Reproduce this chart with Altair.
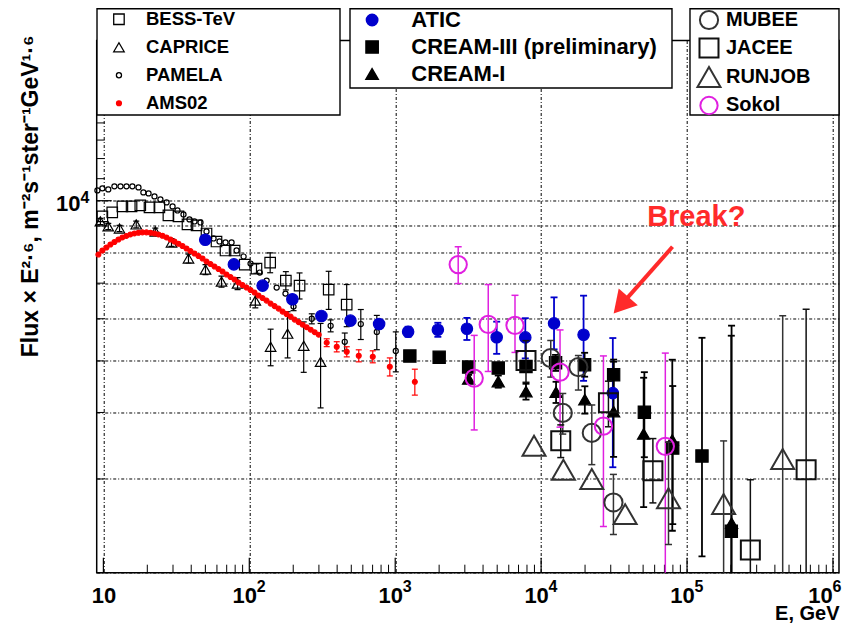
import altair as alt
import pandas as pd

# ---------------- data (E in GeV, Flux x E^2.6) ----------------
BESS_E = [9.84, 11.5, 13.5, 15.6, 17.9, 20.7, 24.2, 27.9, 32.7, 37.7, 43.5, 50.9, 59.6, 68.7, 79.3, 93, 112, 139, 178, 221, 350, 465]
BESS_F = [9342, 9505, 9756, 9756, 9798, 9714, 9714, 9383, 9342, 9024, 8985, 8677, 8381, 8061, 8061, 7586, 7456, 7652, 7077, 6926, 6808, 6378]
BESS_ERR = [0, 0, 0, 0, 0, 0, 0, 0, 0, 0, 0, 0, 0, 0, 0, 0, 150, 330, 280, 390, 560, 580]

CAPRICE_E = [9.54, 10.8, 12.9, 16.8, 22.7, 29.3, 38.3, 50.1, 64.5, 83.1, 110, 140, 183, 236, 308]
CAPRICE_F = [9142, 8947, 8867, 9024, 8753, 8346, 7787, 7424, 7047, 6986, 6490, 5316, 5625, 5339, 4980]
CAPRICE_ERR = [120, 120, 120, 130, 130, 140, 150, 160, 170, 180, 200, 420, 560, 580, 900]

PAMELA_E = [9.1, 9.84, 10.8, 11.9, 13.1, 14.4, 15.8, 17.4, 18.8, 20.4, 22.4, 24.6, 27.1, 29.8, 32.2, 35.4, 38.9,
            42.1, 46.3, 50.9, 56.9, 62.5, 68.7, 75.6, 81.8, 91.4, 102, 118, 131.5, 154, 177, 201, 268, 361, 451,
            581, 748, 1009]
PAMELA_F = [10457, 10548, 10502, 10640, 10640, 10640, 10640, 10593, 10366, 10321, 10188, 10056, 9926, 9756, 9588,
            9423, 9222, 9142, 9102, 8754, 8493, 8383, 8346, 8346, 8061, 7853, 7620, 7328, 7077, 6866, 6690, 6324,
            6000, 5820, 5431, 5865, 5668, 5219]
PAMELA_ERR = [0, 0, 0, 0, 0, 0, 0, 0, 0, 0, 0, 0, 0, 0, 0, 0, 0, 0, 0, 0, 0, 0, 0, 0, 0, 0, 0, 0, 0, 0, 0,
              110, 130, 150, 210, 380, 420, 450]

AMS_E = [9.24, 9.84, 10.49, 11.17, 11.90, 12.68, 13.50, 14.38, 15.32, 16.32, 17.39, 18.52, 19.73, 21.02, 22.39,
         23.85, 25.41, 27.06, 28.83, 30.71, 32.72, 34.85, 37.13, 39.55, 42.13, 44.88, 47.81, 50.93, 54.26, 57.79,
         61.57, 65.59, 69.87, 74.42, 79.28, 84.46, 89.96, 95.83, 102.1, 108.7, 115.8, 123.4, 131.4, 140.0, 149.1,
         158.9, 169.2, 180.3, 192.1, 204.6, 218.0, 232.2, 247.4, 263.5, 280.7, 299.0, 339.3, 397.4, 465.5, 562.6,
         701.8, 918.4, 1363]
AMS_F = [7922, 8061, 8167, 8274, 8364, 8455, 8530, 8586, 8641, 8679, 8706, 8718, 8718, 8706, 8679, 8641, 8594,
         8530, 8455, 8381, 8300, 8220, 8131, 8043, 7957, 7870, 7787, 7686, 7603, 7521, 7440, 7360, 7265, 7187,
         7110, 7018, 6943, 6868, 6794, 6721, 6634, 6562, 6490, 6407, 6338, 6269, 6188, 6121, 6056, 5978, 5913,
         5848, 5785, 5723, 5661, 5600, 5410, 5316, 5202, 5113, 5091, 4875, 4568]
AMS_ERR = [0, 0, 0, 0, 0, 0, 0, 0, 0, 0, 0, 0, 0, 0, 0, 0, 0, 0, 0, 0, 0, 0, 0, 0, 0, 0, 0, 0, 0, 0,
           0, 0, 0, 0, 0, 0, 0, 0, 0, 0, 0, 0, 0, 0, 0, 0, 0, 0, 0, 0, 0, 0, 0, 0, 0, 0,
           92, 117, 114, 133, 132, 190, 256]

ATIC_E = [49.9, 78.4, 123.4, 197.3, 312.1, 493.4, 775.7, 1226, 1960, 3100, 4959, 7789, 12260, 19540, 31000]
ATIC_F = [8444, 7592, 6926, 6527, 6074, 5952, 5867, 5674, 5723, 5748, 5540, 5535, 5882, 5600, 4350]
ATIC_ERR_LO = [100, 90, 80, 80, 80, 90, 100, 123, 174, 274, 385, 480, 625, 1013, 1194]
ATIC_ERR_HI = [100, 90, 80, 80, 80, 90, 100, 123, 174, 274, 385, 480, 700, 1031, 1170]

CREAM3_E = [1260, 2001, 3185, 5084, 7877, 12560, 19860, 31400, 50990, 79780, 126600, 201100]
CREAM3_F = [5106, 5079, 4868, 4847, 4881, 4960, 4917, 4709, 4005, 3429, 3313, 2393]
CREAM3_ERR_LO = [66, 66, 63, 84, 106, 172, 247, 307, 709, 962, 1166, 1500]
CREAM3_ERR_HI = [66, 66, 63, 84, 106, 172, 262, 320, 757, 1056, 2213, 3183]

CREAM1_E = [3185, 5084, 7877, 12660, 19930, 31380, 50420, 79230, 201900]
CREAM1_F = [4627, 4573, 4379, 4368, 4230, 4016, 3646, 3552, 2479]
CREAM1_ERR_LO = [80, 120, 150, 200, 250, 715, 990, 1154, 1500]
CREAM1_ERR_HI = [80, 120, 150, 200, 250, 966, 1003, 1474, 3345]

MUBEE_E = [11640, 14070, 18000, 22250, 31300]
MUBEE_F = [5062, 3993, 4868, 3662, 2710]
MUBEE_ERR_LO = [400, 350, 460, 470, 350]
MUBEE_ERR_HI = [400, 350, 250, 470, 350]

JACEE_E = [7877, 13630, 28930, 58340, 271600, 654900]
JACEE_F = [5008, 3541, 4170, 3110, 2207, 3123]
JACEE_ERR_LO = [450, 250, 410, 405, 800, 1500]
JACEE_ERR_HI = [450, 250, 410, 463, 783, 3130]

RUNJOB_E = [8940, 14210, 22250, 37650, 74650, 178100, 452400]
RUNJOB_F = [3464, 3123, 2999, 2577, 2759, 2692, 3271]
RUNJOB_ERR_LO = [0, 0, 0, 0, 499, 1500, 2000]
RUNJOB_ERR_HI = [0, 0, 0, 0, 759, 845, 2810]

SOKOL_E = [2702, 3479, 4341, 6621, 13480, 26730, 70980]
SOKOL_F = [7586, 4642, 5856, 5831, 4764, 3770, 3455]
SOKOL_ERR_LO = [599, 933, 1079, 644, 1010, 1327, 2000]
SOKOL_ERR_HI = [606, 942, 1101, 810, 953, 1339, 1717]

# annotation ("Break?" label and arrow), in data coordinates
BREAK_LABEL = {"E": [115700], "F": [9302]}
ARROW_FROM = {"E": [79530], "F": [8192]}
ARROW_HEAD = {"E": [35240], "F": [6363]}

# axis ticks / grid / tick-label exponents
X_MAJOR = [10, 100, 1000, 10000, 100000, 1000000]
X_MINOR = [m * 10 ** k for k in range(1, 6) for m in range(2, 10)]
X_EXP_VALUES = [100, 1000, 10000, 100000]
X_EXP_TEXT = ["2", "3", "4", "5"]
X_EXP_LAST = {"E": [1000000], "t": ["6"]}
Y_GRID = [2000, 3000, 4000, 5000, 6000, 7000, 8000, 9000, 10000]
Y_MAJOR = [10000, 20000]
Y_MINOR = [2000, 3000, 4000, 5000, 6000, 7000, 8000, 9000, 11000, 12000, 13000, 14000, 15000, 16000, 17000, 18000, 19000]
Y_EXP = {"F": [10000], "t": ["4"]}

# ---------------- styling ----------------
FONT = "Liberation Sans"
W, H = 742.3, 532.2
PAD_TOP = 32.5

XS = alt.Scale(type="log", domain=[9, 1.1e6], nice=False, zero=False)
YS = alt.Scale(type="log", domain=[2000, 20000], nice=False, zero=False)
GRID_DASH = [3, 2, 1, 2]

XAXIS = alt.Axis(
    values=X_MAJOR,
    labelExpr="'10'",
    labelFont=FONT, labelFontSize=22, labelFontWeight="bold", labelColor="black",
    labelPadding=30.3, labelBaseline="alphabetic", labelFlush=False, labelOverlap=False,
    labelOffset={"condition": [{"test": "datum.value > 500000", "value": -13},
                               {"test": "datum.value > 50", "value": -5}], "value": 0},
    ticks=False, domain=False,
    grid=True, gridColor="black", gridDash=GRID_DASH, gridWidth=1, gridOpacity=1,
    title="E, GeV", titleFont=FONT, titleFontSize=20, titleFontWeight="bold", titleColor="black",
    titleX=W, titleY=46.8, titleAlign="right", titleBaseline="alphabetic",
)
YAXIS = alt.Axis(
    values=Y_GRID,
    labelExpr="datum.value == 10000 ? '10' : ''",
    labelFont=FONT, labelFontSize=22, labelFontWeight="bold", labelColor="black",
    labelPadding=16.7, labelBaseline="middle", labelOverlap=False, labelOffset=3,
    ticks=False, domain=False,
    grid=True, gridColor="black", gridDash=GRID_DASH, gridWidth=1, gridOpacity=1,
    title="Flux × E²·⁶, m⁻²s⁻¹ster⁻¹GeV¹·⁶", titleFont=FONT, titleFontSize=23, titleFontWeight="bold",
    titleColor="black", titleAngle=270, titleX=-59.7, titleY=-5.5, titleAlign="right",
    titleBaseline="alphabetic",
)


def xenc(field):
    return alt.X(field, type="quantitative", scale=XS, axis=XAXIS)


def yenc(field):
    return alt.Y(field, type="quantitative", scale=YS, axis=YAXIS)


def frame(name, E, F, em, ep=None):
    ep = em if ep is None else ep
    return pd.DataFrame({
        "series": name, "E": E, "F": F,
        "lo": [f - a for f, a in zip(F, em)],
        "hi": [f + b for f, b in zip(F, ep)],
    })


def group(frames, names, shapes, strokes, fills, sizes, legend, pt_sw, err_sw, cap_size):
    pts = pd.concat(frames, ignore_index=True)
    err = pts[pts["hi"] > pts["lo"]]
    caps = pd.concat([err.assign(v=err["lo"]), err.assign(v=err["hi"])], ignore_index=True)
    stroke = alt.Stroke("series:N", scale=alt.Scale(domain=names, range=strokes), legend=legend)
    rules = alt.Chart(err).mark_rule(strokeWidth=err_sw, clip=True).encode(
        x=xenc("E"), y=yenc("lo"), y2="hi:Q", stroke=stroke)
    capm = alt.Chart(caps).mark_point(shape="M-1,0L1,0", size=cap_size, strokeWidth=err_sw,
                                      filled=False, opacity=1, clip=True).encode(
        x=xenc("E"), y=yenc("v"), stroke=stroke)
    points = alt.Chart(pts).mark_point(filled=True, opacity=1, strokeWidth=pt_sw).encode(
        x=xenc("E"), y=yenc("F"),
        shape=alt.Shape("series:N", scale=alt.Scale(domain=names, range=shapes), legend=legend),
        stroke=stroke,
        fill=alt.Fill("series:N", scale=alt.Scale(domain=names, range=fills), legend=legend),
        size=alt.Size("series:N", scale=alt.Scale(type="ordinal", domain=names, range=sizes), legend=legend),
    )
    return alt.layer(rules, capm, points)


def legend(x, y, font_size, label_offset, row_pad, sw):
    return alt.Legend(orient="none", legendX=x, legendY=y, title=None, padding=0,
                      labelFont=FONT, labelFontSize=font_size, labelFontWeight="bold", labelColor="black",
                      labelOffset=label_offset, labelLimit=400, rowPadding=row_pad, symbolStrokeWidth=sw)


left = group(
    [frame("BESS-TeV", BESS_E, BESS_F, BESS_ERR), frame("CAPRICE", CAPRICE_E, CAPRICE_F, CAPRICE_ERR),
     frame("PAMELA", PAMELA_E, PAMELA_F, PAMELA_ERR), frame("AMS02", AMS_E, AMS_F, AMS_ERR)],
    ["BESS-TeV", "CAPRICE", "PAMELA", "AMS02"],
    ["square", "triangle-up", "circle", "circle"],
    ["black", "black", "black", "#ff0000"],
    ["transparent", "transparent", "transparent", "#ff0000"],
    [110, 110, 26, 24],
    legend(13, -30.5, 18.5, 17.8, 9, 1.3), 1.2, 1.2, 36)

middle = group(
    [frame("ATIC", ATIC_E, ATIC_F, ATIC_ERR_LO, ATIC_ERR_HI),
     frame("CREAM-III (preliminary)", CREAM3_E, CREAM3_F, CREAM3_ERR_LO, CREAM3_ERR_HI),
     frame("CREAM-I", CREAM1_E, CREAM1_F, CREAM1_ERR_LO, CREAM1_ERR_HI)],
    ["ATIC", "CREAM-III (preliminary)", "CREAM-I"],
    ["circle", "square", "triangle-up"],
    ["#0000cc", "black", "black"],
    ["#0000cc", "black", "black"],
    [130, 150, 150],
    legend(264.4, -31.5, 22, 28.2, 5, 1.5), 1.2, 1.8, 49)

right = group(
    [frame("MUBEE", MUBEE_E, MUBEE_F, MUBEE_ERR_LO, MUBEE_ERR_HI),
     frame("JACEE", JACEE_E, JACEE_F, JACEE_ERR_LO, JACEE_ERR_HI),
     frame("RUNJOB", RUNJOB_E, RUNJOB_F, RUNJOB_ERR_LO, RUNJOB_ERR_HI),
     frame("Sokol", SOKOL_E, SOKOL_F, SOKOL_ERR_LO, SOKOL_ERR_HI)],
    ["MUBEE", "JACEE", "RUNJOB", "Sokol"],
    ["circle", "square", "triangle-up", "circle"],
    ["#333333", "#111111", "#333333", "#e020e0"],
    ["transparent", "transparent", "transparent", "transparent"],
    [330, 361, 529, 300],
    legend(599.8, -31, 20, 4.5, 1, 2), 2, 1.5, 49)

# inward tick marks
xt_major = alt.Chart(pd.DataFrame({"E": X_MAJOR})).mark_rule(color="black", strokeWidth=1.2).encode(
    x=xenc("E"), y=alt.value(H), y2=alt.value(H - 15))
xt_minor = alt.Chart(pd.DataFrame({"E": X_MINOR})).mark_rule(color="black", strokeWidth=1).encode(
    x=xenc("E"), y=alt.value(H), y2=alt.value(H - 8))
yt_major = alt.Chart(pd.DataFrame({"F": Y_MAJOR})).mark_rule(color="black", strokeWidth=1.2).encode(
    y=yenc("F"), x=alt.value(0), x2=alt.value(15))
yt_minor = alt.Chart(pd.DataFrame({"F": Y_MINOR})).mark_rule(color="black", strokeWidth=1).encode(
    y=yenc("F"), x=alt.value(0), x2=alt.value(8))

# tick-label exponents (superscripts)
EXP_STYLE = dict(font=FONT, fontSize=16, fontWeight="bold", color="black", align="left", baseline="alphabetic")
x_exp = alt.Chart(pd.DataFrame({"E": X_EXP_VALUES, "t": X_EXP_TEXT})).mark_text(dx=7.5, **EXP_STYLE).encode(
    x=xenc("E"), y=alt.value(H + 19.3), text="t:N")
x_exp_last = alt.Chart(pd.DataFrame(X_EXP_LAST)).mark_text(dx=-0.5, **EXP_STYLE).encode(
    x=xenc("E"), y=alt.value(H + 19.3), text="t:N")
y_exp = alt.Chart(pd.DataFrame(Y_EXP)).mark_text(dy=2.7, **EXP_STYLE).encode(
    y=yenc("F"), x=alt.value(-16.2), text="t:N")

# legend frames
dummy = pd.DataFrame({"k": [0]})


def box(x0, x1, y0, y1):
    return alt.Chart(dummy).mark_rect(fill="white", stroke="black", strokeWidth=1.4).encode(
        x=alt.value(x0), x2=alt.value(x1), y=alt.value(y0), y2=alt.value(y1))


boxes = [box(0.3, 243.3, -31.8, 74.5), box(253.3, 575.3, -31.8, 47.5), box(593.3, 742.3, -31.8, 74.5)]

# annotation
RED = "#ff2a2a"
label = alt.Chart(pd.DataFrame(BREAK_LABEL)).mark_text(
    text="Break?", font=FONT, fontSize=29, fontWeight="bold", color=RED, align="center", baseline="middle"
).encode(x=xenc("E"), y=yenc("F"))
arrow_df = pd.DataFrame({"E": ARROW_FROM["E"], "F": ARROW_FROM["F"],
                         "E2": ARROW_HEAD["E"], "F2": ARROW_HEAD["F"]})
shaft = alt.Chart(arrow_df).mark_rule(color=RED, strokeWidth=4).encode(
    x=xenc("E"), y=yenc("F"), x2="E2:Q", y2="F2:Q")
head = alt.Chart(pd.DataFrame(ARROW_HEAD)).mark_point(
    shape="triangle-up", filled=True, size=650, angle=221.5, color=RED, opacity=1, strokeWidth=0
).encode(x=xenc("E"), y=yenc("F"))

chart = alt.layer(
    xt_major, xt_minor, yt_major, yt_minor, left, middle, right, *boxes, shaft, head, label,
    x_exp, x_exp_last, y_exp
).resolve_scale(
    stroke="independent", fill="independent", shape="independent", size="independent"
).properties(
    width=W, height=H,
    autosize=alt.AutoSizeParams(type="none"),
    padding={"left": 88.7, "top": PAD_TOP, "right": 3, "bottom": 51},
).configure(font=FONT).configure_view(stroke="black", strokeWidth=1.5)

chart.save("out.html", embed_options={"renderer": "svg", "actions": False})
